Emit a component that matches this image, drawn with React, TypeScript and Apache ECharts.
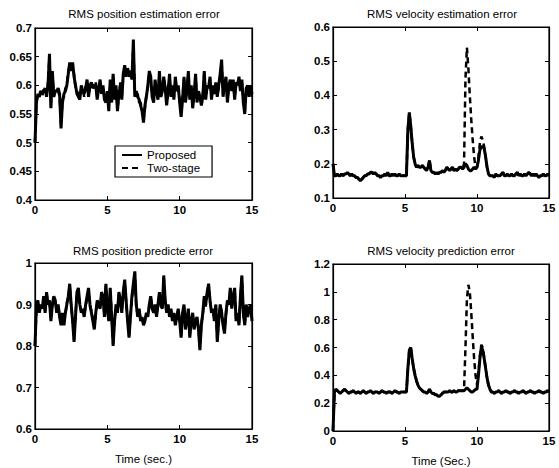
import React, { useEffect, useRef } from "react";
import * as echarts from "echarts";

const TIME_STEP = 0.1;

const TITLES = [
  "RMS position estimation error",
  "RMS velocity estimation error",
  "RMS position predicte error",
  "RMS velocity prediction error",
];
const X_NAMES = ["", "", "Time (sec.)", "Time (Sec.)"];
const SERIES_NAMES = ["Proposed", "Two-stage"];

const X_RANGE = { min: 0, max: 15, interval: 5 };
const Y_RANGES = [
  { min: 0.4, max: 0.7, interval: 0.05 },
  { min: 0.1, max: 0.6, interval: 0.1 },
  { min: 0.6, max: 1.0, interval: 0.1 },
  { min: 0, max: 1.2, interval: 0.2 },
];

const POS_EST_PROPOSED = [
  0.50, 0.57, 0.585, 0.58, 0.59, 0.585, 0.59, 0.595, 0.58, 0.60,
  0.655, 0.56, 0.625, 0.58, 0.59, 0.59, 0.595, 0.585, 0.525, 0.57,
  0.585, 0.59, 0.60, 0.62, 0.64, 0.625, 0.64, 0.615, 0.60, 0.585,
  0.58, 0.575, 0.60, 0.59, 0.585, 0.595, 0.61, 0.58, 0.60, 0.605,
  0.595, 0.60, 0.60, 0.575, 0.595, 0.61, 0.585, 0.60, 0.575, 0.57,
  0.59, 0.555, 0.61, 0.57, 0.62, 0.575, 0.60, 0.555, 0.585, 0.60,
  0.575, 0.62, 0.635, 0.615, 0.63, 0.62, 0.625, 0.61, 0.68, 0.58,
  0.59, 0.58, 0.575, 0.565, 0.555, 0.535, 0.565, 0.58, 0.60, 0.625,
  0.615, 0.58, 0.57, 0.61, 0.59, 0.575, 0.625, 0.58, 0.59, 0.615,
  0.595, 0.565, 0.59, 0.62, 0.58, 0.60, 0.575, 0.615, 0.59, 0.60,
  0.57, 0.545, 0.575, 0.615, 0.57, 0.59, 0.625, 0.575, 0.60, 0.56,
  0.585, 0.62, 0.57, 0.59, 0.58, 0.565, 0.58, 0.625, 0.575, 0.60,
  0.595, 0.615, 0.575, 0.60, 0.585, 0.605, 0.58, 0.60, 0.62, 0.645,
  0.58, 0.60, 0.615, 0.57, 0.60, 0.61, 0.59, 0.61, 0.575, 0.605,
  0.60, 0.615, 0.59, 0.61, 0.57, 0.55, 0.595, 0.60, 0.58, 0.60,
  0.585,
];
const POS_EST_TWO_STAGE = [
  0.50, 0.575, 0.58, 0.585, 0.59, 0.58, 0.595, 0.59, 0.585, 0.605,
  0.65, 0.565, 0.62, 0.585, 0.59, 0.595, 0.59, 0.58, 0.53, 0.575,
  0.58, 0.595, 0.60, 0.625, 0.635, 0.63, 0.635, 0.62, 0.595, 0.59,
  0.585, 0.58, 0.595, 0.595, 0.58, 0.60, 0.605, 0.585, 0.595, 0.60,
  0.60, 0.595, 0.605, 0.58, 0.59, 0.605, 0.59, 0.595, 0.58, 0.575,
  0.585, 0.56, 0.605, 0.575, 0.615, 0.58, 0.595, 0.56, 0.58, 0.605,
  0.58, 0.615, 0.63, 0.62, 0.625, 0.615, 0.62, 0.615, 0.67, 0.585,
  0.585, 0.585, 0.57, 0.57, 0.56, 0.54, 0.56, 0.585, 0.595, 0.62,
  0.61, 0.585, 0.575, 0.605, 0.595, 0.58, 0.62, 0.585, 0.595, 0.61,
  0.60, 0.57, 0.585, 0.615, 0.585, 0.595, 0.58, 0.61, 0.595, 0.595,
  0.575, 0.55, 0.58, 0.61, 0.575, 0.595, 0.62, 0.58, 0.595, 0.565,
  0.58, 0.615, 0.575, 0.585, 0.585, 0.57, 0.585, 0.62, 0.58, 0.595,
  0.60, 0.61, 0.58, 0.595, 0.59, 0.60, 0.585, 0.595, 0.615, 0.64,
  0.585, 0.595, 0.61, 0.575, 0.595, 0.605, 0.595, 0.605, 0.58, 0.60,
  0.605, 0.61, 0.595, 0.605, 0.575, 0.555, 0.59, 0.595, 0.585, 0.595,
  0.58,
];

const VEL_EST_PROPOSED = [
  0.20, 0.165, 0.165, 0.17, 0.165, 0.165, 0.17, 0.165, 0.17, 0.17,
  0.175, 0.17, 0.165, 0.17, 0.165, 0.165, 0.16, 0.16, 0.155, 0.15,
  0.155, 0.16, 0.165, 0.165, 0.17, 0.17, 0.175, 0.175, 0.17, 0.175,
  0.17, 0.165, 0.165, 0.16, 0.165, 0.165, 0.17, 0.165, 0.175, 0.165,
  0.165, 0.17, 0.165, 0.17, 0.165, 0.165, 0.17, 0.165, 0.165, 0.165,
  0.165, 0.165, 0.30, 0.35, 0.31, 0.26, 0.22, 0.20, 0.19, 0.195,
  0.19, 0.19, 0.195, 0.19, 0.185, 0.18, 0.19, 0.21, 0.18, 0.175,
  0.175, 0.17, 0.175, 0.17, 0.175, 0.175, 0.18, 0.175, 0.18, 0.19,
  0.185, 0.18, 0.185, 0.19, 0.18, 0.185, 0.18, 0.185, 0.19, 0.19,
  0.185, 0.19, 0.20, 0.195, 0.185, 0.18, 0.18, 0.185, 0.19, 0.185,
  0.19, 0.21, 0.24, 0.25, 0.25, 0.245, 0.22, 0.19, 0.17, 0.165,
  0.165, 0.165, 0.16, 0.17, 0.165, 0.165, 0.165, 0.17, 0.175, 0.165,
  0.165, 0.17, 0.165, 0.165, 0.17, 0.165, 0.165, 0.17, 0.175, 0.165,
  0.17, 0.165, 0.165, 0.17, 0.165, 0.17, 0.175, 0.17, 0.165, 0.17,
  0.165, 0.17, 0.165, 0.16, 0.165, 0.165, 0.17, 0.165, 0.165, 0.17,
  0.165,
];
const VEL_EST_TWO_STAGE = [
  0.20, 0.165, 0.165, 0.17, 0.165, 0.165, 0.17, 0.165, 0.17, 0.17,
  0.175, 0.17, 0.165, 0.17, 0.165, 0.165, 0.16, 0.16, 0.155, 0.15,
  0.155, 0.16, 0.165, 0.165, 0.17, 0.17, 0.175, 0.175, 0.17, 0.175,
  0.17, 0.165, 0.165, 0.16, 0.165, 0.165, 0.17, 0.165, 0.175, 0.165,
  0.165, 0.17, 0.165, 0.17, 0.165, 0.165, 0.17, 0.165, 0.165, 0.165,
  0.165, 0.165, 0.30, 0.35, 0.31, 0.26, 0.22, 0.20, 0.19, 0.195,
  0.19, 0.19, 0.195, 0.19, 0.185, 0.18, 0.19, 0.21, 0.18, 0.175,
  0.175, 0.17, 0.175, 0.17, 0.175, 0.175, 0.18, 0.175, 0.18, 0.19,
  0.185, 0.18, 0.185, 0.19, 0.18, 0.185, 0.18, 0.185, 0.19, 0.19,
  0.185, 0.20, 0.45, 0.54, 0.48, 0.40, 0.33, 0.27, 0.22, 0.19,
  0.19, 0.22, 0.26, 0.28, 0.27, 0.25, 0.22, 0.19, 0.17, 0.165,
  0.165, 0.165, 0.16, 0.17, 0.165, 0.165, 0.165, 0.17, 0.175, 0.165,
  0.165, 0.17, 0.165, 0.165, 0.17, 0.165, 0.165, 0.17, 0.175, 0.165,
  0.17, 0.165, 0.165, 0.17, 0.165, 0.17, 0.175, 0.17, 0.165, 0.17,
  0.165, 0.17, 0.165, 0.16, 0.165, 0.165, 0.17, 0.165, 0.165, 0.17,
  0.165,
];

const POS_PRED_PROPOSED = [
  0.80, 0.90, 0.91, 0.88, 0.90, 0.89, 0.92, 0.88, 0.93, 0.90,
  0.91, 0.86, 0.90, 0.92, 0.91, 0.88, 0.90, 0.87, 0.85, 0.88,
  0.85, 0.88, 0.90, 0.92, 0.95, 0.90, 0.86, 0.81, 0.87, 0.93,
  0.94, 0.90, 0.88, 0.89, 0.87, 0.90, 0.92, 0.94, 0.90, 0.88,
  0.86, 0.84, 0.88, 0.91, 0.90, 0.89, 0.93, 0.92, 0.87, 0.95,
  0.89, 0.86, 0.94, 0.87, 0.80, 0.86, 0.90, 0.88, 0.93, 0.91,
  0.88, 0.93, 0.96, 0.91, 0.86, 0.82, 0.87, 0.92, 0.95, 0.98,
  0.90, 0.87, 0.89, 0.86, 0.87, 0.85, 0.86, 0.88, 0.87, 0.90,
  0.92, 0.89, 0.88, 0.90, 0.87, 0.90, 0.93, 0.90, 0.89, 0.97,
  0.91, 0.88, 0.90, 0.87, 0.89, 0.86, 0.88, 0.85, 0.87, 0.89,
  0.86, 0.82, 0.88, 0.90, 0.84, 0.86, 0.89, 0.82, 0.86, 0.88,
  0.84, 0.86, 0.87, 0.84, 0.79, 0.85, 0.88, 0.92, 0.90, 0.93,
  0.95, 0.91, 0.88, 0.89, 0.86, 0.90, 0.81, 0.86, 0.90, 0.88,
  0.85, 0.83, 0.88, 0.91, 0.90, 0.94, 0.89, 0.92, 0.94, 0.86,
  0.88, 0.85, 0.92, 0.97, 0.88, 0.85, 0.90, 0.87, 0.89, 0.90,
  0.86,
];
const POS_PRED_TWO_STAGE = [
  0.80, 0.89, 0.90, 0.885, 0.895, 0.895, 0.915, 0.885, 0.925, 0.905,
  0.905, 0.865, 0.895, 0.915, 0.905, 0.885, 0.895, 0.875, 0.855, 0.875,
  0.855, 0.875, 0.905, 0.915, 0.945, 0.895, 0.865, 0.815, 0.875, 0.925,
  0.935, 0.895, 0.885, 0.885, 0.875, 0.895, 0.915, 0.935, 0.895, 0.885,
  0.865, 0.845, 0.875, 0.905, 0.895, 0.895, 0.925, 0.915, 0.875, 0.945,
  0.885, 0.865, 0.935, 0.875, 0.805, 0.865, 0.895, 0.885, 0.925, 0.905,
  0.885, 0.925, 0.955, 0.905, 0.865, 0.825, 0.875, 0.915, 0.945, 0.975,
  0.895, 0.875, 0.885, 0.865, 0.865, 0.855, 0.865, 0.875, 0.875, 0.895,
  0.915, 0.895, 0.885, 0.895, 0.875, 0.895, 0.925, 0.895, 0.895, 0.965,
  0.905, 0.885, 0.895, 0.875, 0.885, 0.865, 0.875, 0.855, 0.875, 0.885,
  0.865, 0.825, 0.875, 0.895, 0.845, 0.865, 0.885, 0.825, 0.865, 0.875,
  0.845, 0.865, 0.865, 0.845, 0.795, 0.855, 0.875, 0.915, 0.895, 0.925,
  0.945, 0.905, 0.885, 0.885, 0.865, 0.895, 0.815, 0.865, 0.895, 0.885,
  0.855, 0.835, 0.875, 0.905, 0.895, 0.935, 0.895, 0.915, 0.935, 0.865,
  0.875, 0.855, 0.915, 0.965, 0.875, 0.855, 0.895, 0.875, 0.885, 0.895,
  0.865,
];

const VEL_PRED_PROPOSED = [
  0.0, 0.28, 0.30, 0.29, 0.28, 0.27, 0.28, 0.29, 0.30, 0.29,
  0.28, 0.27, 0.28, 0.28, 0.29, 0.28, 0.27, 0.28, 0.28, 0.27,
  0.28, 0.29, 0.28, 0.27, 0.28, 0.28, 0.29, 0.28, 0.27, 0.28,
  0.28, 0.28, 0.27, 0.28, 0.29, 0.28, 0.28, 0.27, 0.28, 0.28,
  0.28, 0.27, 0.28, 0.29, 0.28, 0.28, 0.27, 0.28, 0.28, 0.28,
  0.28, 0.28, 0.45, 0.58, 0.60, 0.52, 0.45, 0.40, 0.36, 0.33,
  0.31, 0.30, 0.29, 0.28, 0.28, 0.27, 0.28, 0.30, 0.28, 0.27,
  0.27, 0.26, 0.26, 0.25, 0.25, 0.26, 0.27, 0.28, 0.28, 0.28,
  0.28, 0.29, 0.28, 0.28, 0.29, 0.28, 0.28, 0.29, 0.29, 0.29,
  0.29, 0.29, 0.30, 0.31, 0.30, 0.29, 0.28, 0.28, 0.29, 0.30,
  0.30, 0.40, 0.52, 0.60, 0.58, 0.52, 0.45, 0.38, 0.33, 0.30,
  0.28, 0.28, 0.27, 0.28, 0.28, 0.29, 0.28, 0.27, 0.28, 0.28,
  0.29, 0.28, 0.28, 0.27, 0.28, 0.28, 0.29, 0.28, 0.28, 0.27,
  0.28, 0.28, 0.29, 0.28, 0.27, 0.28, 0.28, 0.29, 0.28, 0.28,
  0.27, 0.28, 0.28, 0.29, 0.28, 0.28, 0.27, 0.28, 0.28, 0.29,
  0.28,
];
const VEL_PRED_TWO_STAGE = [
  0.0, 0.28, 0.30, 0.29, 0.28, 0.27, 0.28, 0.29, 0.30, 0.29,
  0.28, 0.27, 0.28, 0.28, 0.29, 0.28, 0.27, 0.28, 0.28, 0.27,
  0.28, 0.29, 0.28, 0.27, 0.28, 0.28, 0.29, 0.28, 0.27, 0.28,
  0.28, 0.28, 0.27, 0.28, 0.29, 0.28, 0.28, 0.27, 0.28, 0.28,
  0.28, 0.27, 0.28, 0.29, 0.28, 0.28, 0.27, 0.28, 0.28, 0.28,
  0.28, 0.28, 0.45, 0.58, 0.60, 0.52, 0.45, 0.40, 0.36, 0.33,
  0.31, 0.30, 0.29, 0.28, 0.28, 0.27, 0.28, 0.30, 0.28, 0.27,
  0.27, 0.26, 0.26, 0.25, 0.25, 0.26, 0.27, 0.28, 0.28, 0.28,
  0.28, 0.29, 0.28, 0.28, 0.29, 0.28, 0.28, 0.29, 0.29, 0.29,
  0.29, 0.30, 0.60, 0.95, 1.05, 1.00, 0.85, 0.68, 0.52, 0.40,
  0.33, 0.42, 0.54, 0.62, 0.60, 0.53, 0.45, 0.38, 0.33, 0.30,
  0.28, 0.28, 0.27, 0.28, 0.28, 0.29, 0.28, 0.27, 0.28, 0.28,
  0.29, 0.28, 0.28, 0.27, 0.28, 0.28, 0.29, 0.28, 0.28, 0.27,
  0.28, 0.28, 0.29, 0.28, 0.27, 0.28, 0.28, 0.29, 0.28, 0.28,
  0.27, 0.28, 0.28, 0.29, 0.28, 0.28, 0.27, 0.28, 0.28, 0.29,
  0.28,
];

const PANELS = [
  [POS_EST_PROPOSED, POS_EST_TWO_STAGE],
  [VEL_EST_PROPOSED, VEL_EST_TWO_STAGE],
  [POS_PRED_PROPOSED, POS_PRED_TWO_STAGE],
  [VEL_PRED_PROPOSED, VEL_PRED_TWO_STAGE],
];

const FONT = "'Liberation Sans', Arial, Helvetica, sans-serif";

const GRIDS = [
  { left: 35, top: 28, width: 217, height: 172 },
  { left: 333, top: 27, width: 216, height: 171 },
  { left: 35, top: 263, width: 217, height: 166 },
  { left: 333, top: 264, width: 216, height: 167 },
];
const TITLE_POS = [
  { x: 144, y: 14 },
  { x: 442, y: 14 },
  { x: 143, y: 251 },
  { x: 441, y: 251 },
];

function toPairs(arr: number[]) {
  return arr.map((v, i) => [Math.round(i * TIME_STEP * 10) / 10, v]);
}

function buildOption() {
  const axisLine = { show: true, onZero: false, lineStyle: { color: "#000", width: 1.2 } };
  const axisTick = { show: true, inside: true, length: 4, lineStyle: { color: "#000", width: 1 } };
  const label = { color: "#000", fontSize: 11.5, fontWeight: "bold" as const, fontFamily: FONT };

  const xAxis: any[] = [];
  const yAxis: any[] = [];
  GRIDS.forEach((_, i) => {
    xAxis.push({
      type: "value", gridIndex: i, position: "bottom", ...X_RANGE,
      axisLine, axisTick, splitLine: { show: false },
      axisLabel: { ...label, margin: 4 },
      name: X_NAMES[i], nameLocation: "middle", nameGap: 24,
      nameTextStyle: { color: "#000", fontSize: 11.5, fontFamily: FONT },
    });
  });
  GRIDS.forEach((_, i) => {
    xAxis.push({
      type: "value", gridIndex: i, position: "top", ...X_RANGE,
      axisLine, axisTick, splitLine: { show: false }, axisLabel: { show: false },
    });
  });
  GRIDS.forEach((_, i) => {
    yAxis.push({
      type: "value", gridIndex: i, position: "left", ...Y_RANGES[i],
      axisLine, axisTick, splitLine: { show: false },
      axisLabel: { ...label, margin: 3 },
    });
  });
  GRIDS.forEach((_, i) => {
    yAxis.push({
      type: "value", gridIndex: i, position: "right", ...Y_RANGES[i],
      axisLine, axisTick, splitLine: { show: false }, axisLabel: { show: false },
    });
  });

  const series: any[] = [];
  PANELS.forEach(([prop, two], i) => {
    series.push({
      name: SERIES_NAMES[1], type: "line", xAxisIndex: i, yAxisIndex: i,
      data: toPairs(two), symbol: "none", showSymbol: false,
      itemStyle: { color: "#000" },
      lineStyle: { color: "#000", width: 2.5, type: [6, 4] }, z: 2,
    });
    series.push({
      name: SERIES_NAMES[0], type: "line", xAxisIndex: i, yAxisIndex: i,
      data: toPairs(prop), symbol: "none", showSymbol: false,
      itemStyle: { color: "#000" },
      lineStyle: { color: "#000", width: 3, type: "solid" }, z: 3,
    });
  });

  return {
    animation: false,
    backgroundColor: "#fff",
    grid: GRIDS.map((g) => ({ ...g, show: true, borderColor: "#000", borderWidth: 1.2, backgroundColor: "transparent" })),
    xAxis,
    yAxis,
    series,
    legend: {
      data: SERIES_NAMES,
      orient: "vertical",
      left: 115, top: 146,
      backgroundColor: "#fff",
      borderColor: "#000", borderWidth: 1.2,
      padding: [3, 12, 3, 6],
      itemGap: 1, itemWidth: 20, itemHeight: 8,
      itemStyle: { opacity: 0 },
      textStyle: { color: "#000", fontSize: 11.5, fontFamily: FONT },
      z: 10,
    },
    graphic: TITLES.map((t, i) => ({
      type: "text",
      x: TITLE_POS[i].x, y: TITLE_POS[i].y,
      style: { text: t, fill: "#000", font: `11.5px ${FONT}`, textAlign: "center", textVerticalAlign: "middle" },
    })),
  };
}

export default function App() {
  const ref = useRef<HTMLDivElement>(null);
  useEffect(() => {
    document.body.style.margin = "0";
    const chart = echarts.init(ref.current!, null, { renderer: "svg" });
    chart.setOption(buildOption() as any);
    return () => chart.dispose();
  }, []);
  return <div ref={ref} style={{ width: 559, height: 468 }} />;
}
